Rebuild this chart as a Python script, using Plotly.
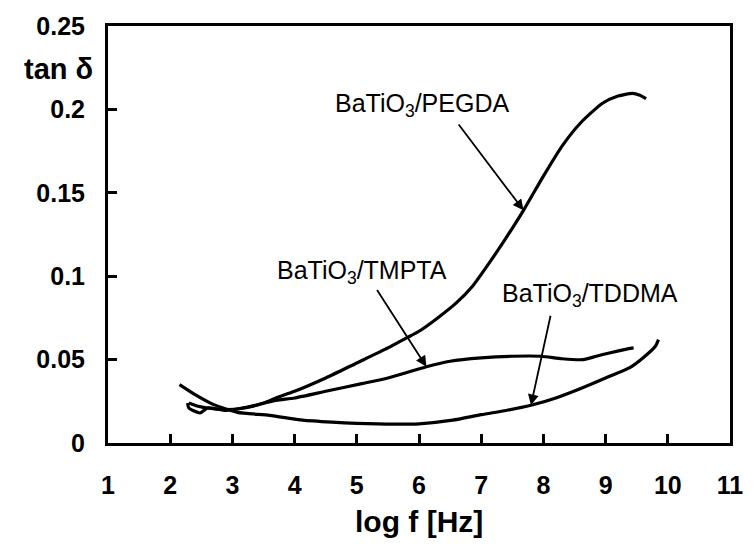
import plotly.graph_objects as go

# ---- data ----
pegda_x = [2.30, 2.45, 2.60, 2.90, 3.20, 3.50, 3.70, 4.00, 4.50, 5.00, 5.50, 5.80, 6.00,
           6.30, 6.60, 6.86, 7.13, 7.40, 7.68, 8.00, 8.30, 8.60, 8.95, 9.20, 9.43, 9.55, 9.65]
pegda_y = [0.024, 0.022, 0.021, 0.020, 0.021, 0.024, 0.027, 0.031, 0.039, 0.048, 0.057, 0.063, 0.067,
           0.075, 0.084, 0.094, 0.108, 0.123, 0.1395, 0.160, 0.178, 0.192, 0.2037, 0.208, 0.2096, 0.2085, 0.2065]

tmpta_x = [2.28, 2.30, 2.48, 2.60, 2.90, 3.30, 3.70, 4.00, 4.50, 5.08, 5.50, 6.12, 6.50,
           7.00, 7.50, 7.96, 8.30, 8.64, 8.85, 9.06, 9.30, 9.45]
tmpta_y = [0.024, 0.021, 0.018, 0.021, 0.0196, 0.022, 0.0255, 0.027, 0.031, 0.0356, 0.039, 0.0457, 0.049,
           0.051, 0.052, 0.052, 0.0505, 0.050, 0.052, 0.054, 0.056, 0.057]

tddma_x = [2.15, 2.40, 2.70, 3.08, 3.60, 4.13, 4.60, 5.00, 5.60, 6.00, 6.54, 7.00, 7.40,
           7.80, 8.20, 8.64, 9.00, 9.38, 9.60, 9.80, 9.85]
tddma_y = [0.035, 0.029, 0.023, 0.0184, 0.0166, 0.0137, 0.0125, 0.0118, 0.0113, 0.0115, 0.0137, 0.017, 0.0195,
           0.0226, 0.027, 0.0333, 0.039, 0.045, 0.051, 0.058, 0.062]

x_ticks = [1, 2, 3, 4, 5, 6, 7, 8, 9, 10, 11]
x_ticklabels = ["1", "2", "3", "4", "5", "6", "7", "8", "9", "10", "11"]
y_ticks = [0, 0.05, 0.1, 0.15, 0.2, 0.25]
y_ticklabels = ["0", "0.05", "0.1", "0.15", "0.2", "0.25"]

labels = ["BaTiO<sub>3</sub>/PEGDA", "BaTiO<sub>3</sub>/TMPTA", "BaTiO<sub>3</sub>/TDDMA"]
label_pos = [(6.055, 0.2025), (5.09, 0.1027), (8.75, 0.089)]
arrow_tail = [(6.62, 0.1918), (5.31, 0.0926), (8.12, 0.0772)]
arrow_tip = [(7.68, 0.1395), (6.12, 0.0457), (7.80, 0.0226)]

FONT = "Arial, Liberation Sans, Helvetica, sans-serif"

fig = go.Figure()
for xs, ys in [(pegda_x, pegda_y), (tmpta_x, tmpta_y), (tddma_x, tddma_y)]:
    fig.add_trace(go.Scatter(x=xs, y=ys, mode="lines",
                             line=dict(color="black", width=3.2, shape="spline", smoothing=0.6),
                             showlegend=False, hoverinfo="skip"))

annotations = []
for lab, (lx, ly) in zip(labels, label_pos):
    annotations.append(dict(x=lx, y=ly, xref="x", yref="y", text=lab, showarrow=False,
                            font=dict(family=FONT, size=25, color="black"),
                            xanchor="center", yanchor="middle"))
for (tx, ty), (hx, hy) in zip(arrow_tail, arrow_tip):
    annotations.append(dict(x=hx, y=hy, ax=tx, ay=ty, xref="x", yref="y", axref="x", ayref="y",
                            text="", showarrow=True, arrowhead=2, arrowsize=1.2, arrowwidth=1.8,
                            arrowcolor="black", standoff=0, startstandoff=0))
annotations.append(dict(x=-0.0803, y=0.898, xref="paper", yref="paper", text="<b>tan δ</b>",
                        showarrow=False, font=dict(family=FONT, size=29, color="black"),
                        xanchor="center", yanchor="middle"))
annotations.append(dict(x=0.5, y=-0.1876, xref="paper", yref="paper", text="<b>log f [Hz]</b>",
                        showarrow=False, font=dict(family=FONT, size=30, color="black"),
                        xanchor="center", yanchor="middle"))

fig.update_layout(
    width=755, height=548,
    margin=dict(l=108, r=12, t=22, b=105),
    paper_bgcolor="white", plot_bgcolor="white",
    annotations=annotations,
    xaxis=dict(range=[1, 11], tickvals=x_ticks, ticktext=x_ticklabels,
               ticks="inside", ticklen=9, tickwidth=2.5, tickcolor="black",
               showline=True, linewidth=3, linecolor="black", mirror=True,
               showgrid=False, zeroline=False, ticklabelstandoff=18,
               tickfont=dict(family=FONT, size=25, color="black", weight="bold")),
    yaxis=dict(range=[0, 0.25], tickvals=y_ticks, ticktext=y_ticklabels,
               ticks="inside", ticklen=9, tickwidth=2.5, tickcolor="black",
               showline=True, linewidth=3, linecolor="black", mirror=True,
               showgrid=False, zeroline=False, ticklabelstandoff=15,
               tickfont=dict(family=FONT, size=25, color="black", weight="bold")),
)

fig.write_html("out.html")
